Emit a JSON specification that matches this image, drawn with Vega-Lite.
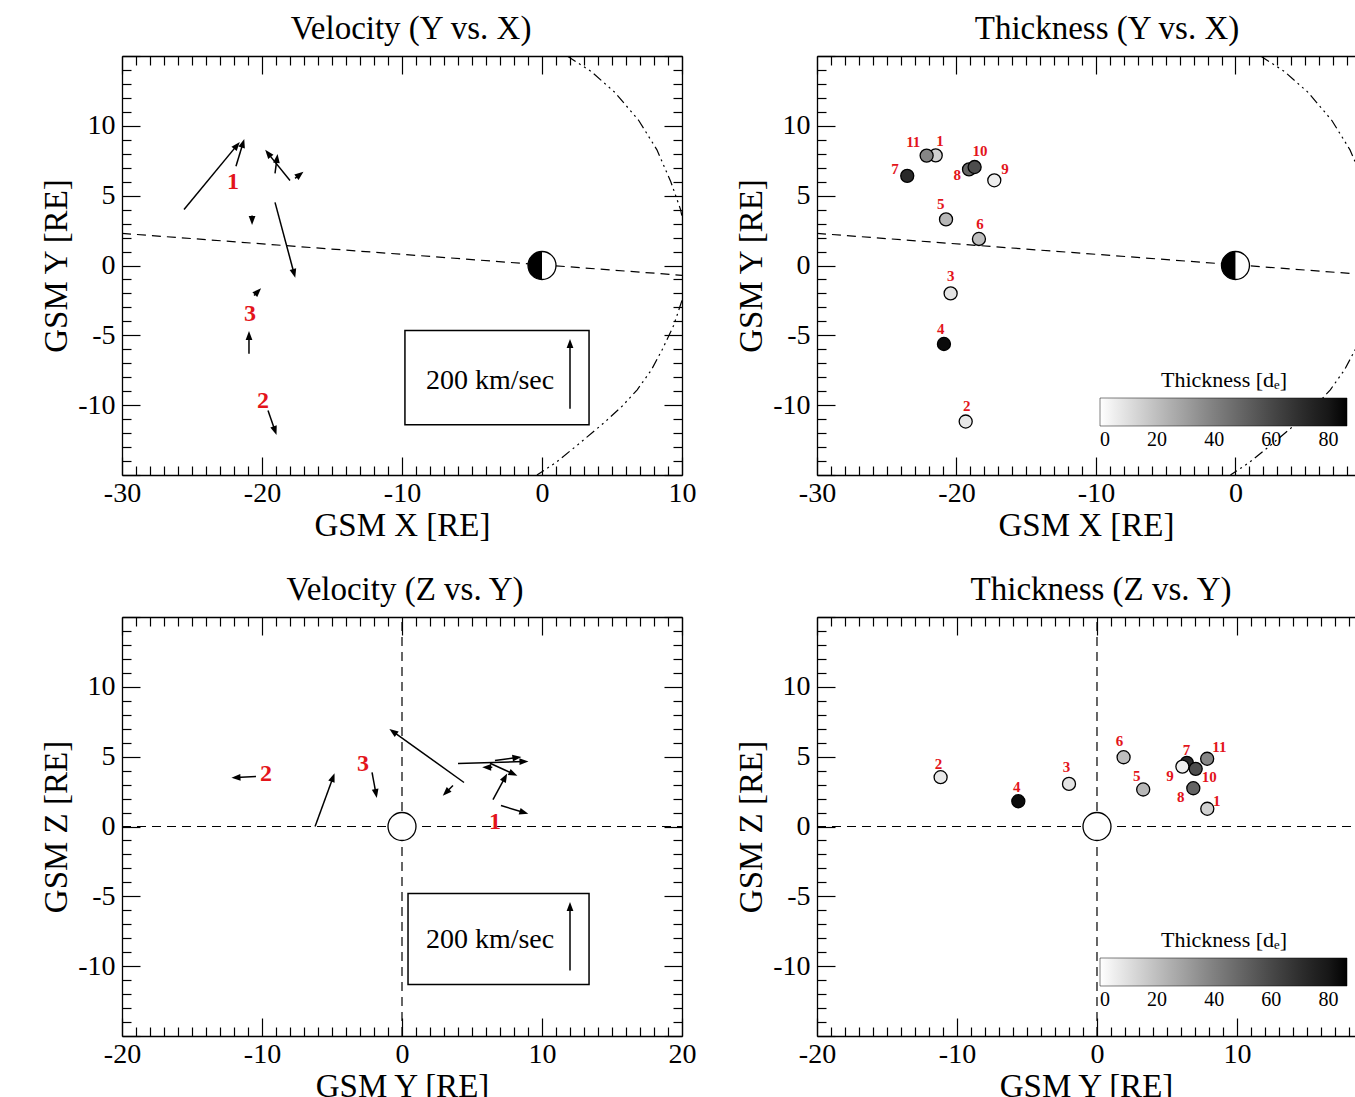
{
"$schema": "https://vega.github.io/schema/vega-lite/v6.json",
"background": "white",
"padding": {"left": 40, "top": 13, "right": 0, "bottom": 0},
"bounds": "flush",
"columns": 2,
"spacing": {"row": 142, "column": 135},
"datasets": {
 "curve": [
  {"x": 1.8, "y": 15}, {"x": 3.5, "y": 13.9}, {"x": 5.2, "y": 12.4}, {"x": 6.9, "y": 10.4}, {"x": 8.2, "y": 8.3}, {"x": 9.2, "y": 6.0}, {"x": 9.9, "y": 4.0}, {"x": 10.3, "y": 2.0}, {"x": 10.45, "y": 0.5}, {"x": 10.3, "y": -1.0}, {"x": 10.0, "y": -2.5}, {"x": 9.4, "y": -4.3}, {"x": 8.6, "y": -6.0}, {"x": 7.8, "y": -7.5}, {"x": 6.8, "y": -8.9}, {"x": 5.7, "y": -10.1}, {"x": 4.5, "y": -11.2}, {"x": 2.6, "y": -12.8}, {"x": 1.0, "y": -14.1}, {"x": -0.36, "y": -15}
 ],
 "velXY": [
  {"id": "7", "x": -25.57, "y": 4.01, "x2": -21.79, "y2": 8.6},
  {"id": "1", "x": -21.86, "y": 7.1, "x2": -21.36, "y2": 8.75},
  {"id": "10", "x": -18.0, "y": 6.09, "x2": -19.57, "y2": 8.03},
  {"id": "8", "x": -19.07, "y": 6.6, "x2": -18.93, "y2": 7.67},
  {"id": "9", "x": -17.64, "y": 6.24, "x2": -17.29, "y2": 6.52},
  {"id": "5", "x": -20.71, "y": 3.58, "x2": -20.71, "y2": 3.23},
  {"id": "6", "x": -19.07, "y": 4.52, "x2": -17.71, "y2": -0.57},
  {"id": "3", "x": -20.57, "y": -2.15, "x2": -20.29, "y2": -1.86},
  {"id": "4", "x": -20.93, "y": -6.31, "x2": -20.93, "y2": -5.02},
  {"id": "2", "x": -19.57, "y": -10.39, "x2": -19.07, "y2": -11.83}
 ],
 "velZY": [
  {"id": "2", "y": -10.43, "z": 3.58, "y2": -11.86, "z2": 3.51},
  {"id": "4", "y": -6.21, "z": 0.0, "y2": -4.93, "z2": 3.51},
  {"id": "3", "y": -2.14, "z": 3.87, "y2": -1.86, "z2": 2.36},
  {"id": "6", "y": 4.43, "z": 3.15, "y2": -0.64, "z2": 6.8},
  {"id": "5", "y": 3.64, "z": 2.93, "y2": 3.14, "z2": 2.43},
  {"id": "7", "y": 4.0, "z": 4.51, "y2": 8.71, "z2": 4.65},
  {"id": "10", "y": 6.29, "z": 4.53, "y2": 7.95, "z2": 3.77},
  {"id": "9", "y": 6.45, "z": 4.24, "y2": 6.05, "z2": 4.24},
  {"id": "11", "y": 6.64, "z": 4.72, "y2": 8.21, "z2": 4.94},
  {"id": "8", "y": 6.5, "z": 1.93, "y2": 7.36, "z2": 3.51},
  {"id": "1", "y": 7.07, "z": 1.5, "y2": 8.71, "z2": 1.0}
 ],
 "events": [
  {"id": "1", "thick": 14, "X": -21.49, "Y": 7.88, "Z": 1.27, "labX": -21.18, "labY": 8.91, "labYz": 8.55, "labZ": 1.79},
  {"id": "2", "thick": 7, "X": -19.34, "Y": -11.17, "Z": 3.53, "labX": -19.27, "labY": -10.09, "labYz": -11.33, "labZ": 4.49},
  {"id": "3", "thick": 8, "X": -20.42, "Y": -2.0, "Z": 3.05, "labX": -20.42, "labY": -0.77, "labYz": -2.17, "labZ": 4.24},
  {"id": "4", "thick": 84, "X": -20.9, "Y": -5.62, "Z": 1.81, "labX": -21.13, "labY": -4.54, "labYz": -5.74, "labZ": 2.81},
  {"id": "5", "thick": 22, "X": -20.75, "Y": 3.3, "Z": 2.65, "labX": -21.13, "labY": 4.42, "labYz": 2.84, "labZ": 3.6},
  {"id": "6", "thick": 20, "X": -18.39, "Y": 1.9, "Z": 4.96, "labX": -18.32, "labY": 2.94, "labYz": 1.6, "labZ": 6.11},
  {"id": "7", "thick": 72, "X": -23.53, "Y": 6.42, "Z": 4.56, "labX": -24.41, "labY": 6.93, "labYz": 6.4, "labZ": 5.51},
  {"id": "8", "thick": 50, "X": -19.1, "Y": 6.88, "Z": 2.74, "labX": -19.94, "labY": 6.45, "labYz": 5.98, "labZ": 2.1},
  {"id": "9", "thick": 5, "X": -17.29, "Y": 6.1, "Z": 4.29, "labX": -16.52, "labY": 6.93, "labYz": 5.21, "labZ": 3.65},
  {"id": "10", "thick": 58, "X": -18.7, "Y": 7.05, "Z": 4.13, "labX": -18.32, "labY": 8.19, "labYz": 8.02, "labZ": 3.53},
  {"id": "11", "thick": 38, "X": -22.14, "Y": 7.87, "Z": 4.85, "labX": -23.1, "labY": 8.84, "labYz": 8.74, "labZ": 5.68}
 ]
},
"concat": [
 {
  "width": 560, "height": 419,
  "title": {"text": "Velocity (Y vs. X)", "dx": 9},
  "layer": [
   {"data": {"values": [{"x": -30, "y": 2.3}, {"x": 10, "y": -0.7}]},
    "mark": {"type": "line", "color": "black", "strokeWidth": 1.2, "strokeDash": [9, 6], "clip": true},
    "encoding": {
     "x": {"field": "x", "type": "quantitative", "scale": {"domain": [-30, 10], "nice": false, "zero": false},
       "axis": {"orient": "bottom", "values": [-30,-29,-28,-27,-26,-25,-24,-23,-22,-21,-20,-19,-18,-17,-16,-15,-14,-13,-12,-11,-10,-9,-8,-7,-6,-5,-4,-3,-2,-1,0,1,2,3,4,5,6,7,8,9,10], "labelExpr": "datum.value % 10 === 0 ? '' + datum.value : ''", "tickSize": {"condition": {"test": "datum.value % 10 === 0", "value": -18}, "value": -9}, "labelPadding": 22, "title": "GSM X [RE]", "titlePadding": -7}},
     "y": {"field": "y", "type": "quantitative", "scale": {"domain": [-15, 15], "nice": false, "zero": false},
       "axis": {"orient": "left", "values": [-15,-14,-13,-12,-11,-10,-9,-8,-7,-6,-5,-4,-3,-2,-1,0,1,2,3,4,5,6,7,8,9,10,11,12,13,14,15], "labelExpr": "abs(datum.value) <= 10 && datum.value % 5 === 0 ? '' + datum.value : ''", "tickSize": {"condition": {"test": "datum.value % 5 === 0", "value": -18}, "value": -9}, "labelPadding": 25, "title": "GSM Y [RE]", "titlePadding": 4}}
    }},
   {"data": {"name": "curve"},
    "mark": {"type": "line", "color": "black", "strokeWidth": 1.2, "strokeDash": [10, 4, 2, 4, 2, 4, 2, 4], "clip": true},
    "encoding": {
     "x": {"field": "x", "type": "quantitative", "scale": {"domain": [-30, 10], "nice": false, "zero": false},
       "axis": {"orient": "top", "values": [-30,-29,-28,-27,-26,-25,-24,-23,-22,-21,-20,-19,-18,-17,-16,-15,-14,-13,-12,-11,-10,-9,-8,-7,-6,-5,-4,-3,-2,-1,0,1,2,3,4,5,6,7,8,9,10], "labels": false, "title": null, "tickSize": {"condition": {"test": "datum.value % 10 === 0", "value": -18}, "value": -9}}},
     "y": {"field": "y", "type": "quantitative", "scale": {"domain": [-15, 15], "nice": false, "zero": false},
       "axis": {"orient": "right", "values": [-15,-14,-13,-12,-11,-10,-9,-8,-7,-6,-5,-4,-3,-2,-1,0,1,2,3,4,5,6,7,8,9,10,11,12,13,14,15], "labels": false, "title": null, "tickSize": {"condition": {"test": "datum.value % 5 === 0", "value": -18}, "value": -9}}},
     "order": {"value": null}
    }},
   {"data": {"name": "velXY"},
    "mark": {"type": "rule", "color": "black", "strokeWidth": 1.5},
    "encoding": {
     "x": {"field": "x", "type": "quantitative", "axis": null}, "y": {"field": "y", "type": "quantitative", "axis": null},
     "x2": {"field": "x2"}, "y2": {"field": "y2"}
    }},
   {"data": {"name": "velXY"},
    "transform": [{"calculate": "atan2(datum.x2 - datum.x, datum.y2 - datum.y) * 180 / PI", "as": "ang"}],
    "mark": {"type": "point", "shape": "M0,-1L0.75,1L-0.75,1Z", "filled": true, "color": "black", "opacity": 1, "size": 81},
    "encoding": {
     "x": {"field": "x2", "type": "quantitative", "axis": null}, "y": {"field": "y2", "type": "quantitative", "axis": null},
     "angle": {"field": "ang", "type": "quantitative", "scale": null}
    }},
   {"data": {"values": [{"x": -22.07, "y": 5.95, "n": "1"}, {"x": -20.86, "y": -3.44, "n": "3"}, {"x": -19.93, "y": -9.68, "n": "2"}]},
    "mark": {"type": "text", "color": "#e3141b", "font": "Liberation Serif", "fontWeight": "bold", "fontSize": 24},
    "encoding": {"x": {"field": "x", "type": "quantitative", "axis": null}, "y": {"field": "y", "type": "quantitative", "axis": null}, "text": {"field": "n"}}},
   {"data": {"values": [{"x": 0, "y": 0}]},
    "mark": {"type": "point", "shape": "circle", "filled": true, "fill": "white", "stroke": "black", "strokeWidth": 1.3, "opacity": 1, "size": 784},
    "encoding": {"x": {"field": "x", "type": "quantitative", "axis": null}, "y": {"field": "y", "type": "quantitative", "axis": null}}},
   {"data": {"values": [{"x": 0, "y": 0}]},
    "mark": {"type": "point", "shape": "M0,-1A1,1,0,0,0,0,1Z", "filled": true, "color": "black", "opacity": 1, "size": 784},
    "encoding": {"x": {"field": "x", "type": "quantitative", "axis": null}, "y": {"field": "y", "type": "quantitative", "axis": null}}},
   {"data": {"values": [{"x": -9.79, "x2": 3.36, "y": -4.66, "y2": -11.4}]},
    "mark": {"type": "rect", "fill": "white", "stroke": "black", "strokeWidth": 1.5},
    "encoding": {"x": {"field": "x", "type": "quantitative", "axis": null}, "x2": {"field": "x2"}, "y": {"field": "y", "type": "quantitative", "axis": null}, "y2": {"field": "y2"}}},
   {"data": {"values": [{"x": -3.71, "y": -8.24, "s": "200 km/sec"}]},
    "mark": {"type": "text", "font": "Liberation Serif", "fontSize": 28, "color": "black"},
    "encoding": {"x": {"field": "x", "type": "quantitative", "axis": null}, "y": {"field": "y", "type": "quantitative", "axis": null}, "text": {"field": "s"}}},
   {"data": {"values": [{"x": 2.0, "y": -10.25, "x2": 2.0, "y2": -5.59}]},
    "mark": {"type": "rule", "color": "black", "strokeWidth": 1.5},
    "encoding": {"x": {"field": "x", "type": "quantitative", "axis": null}, "y": {"field": "y", "type": "quantitative", "axis": null}, "x2": {"field": "x2"}, "y2": {"field": "y2"}}},
   {"data": {"values": [{"x": 2.0, "y": -5.59}]},
    "mark": {"type": "point", "shape": "M0,-1L0.75,1L-0.75,1Z", "filled": true, "color": "black", "opacity": 1, "size": 81},
    "encoding": {"x": {"field": "x", "type": "quantitative", "axis": null}, "y": {"field": "y", "type": "quantitative", "axis": null}}}
  ],
  "resolve": {"axis": {"x": "independent", "y": "independent"}}
 },
 {
  "width": 538, "height": 419,
  "title": {"text": "Thickness (Y vs. X)", "dx": 21},
  "layer": [
   {"data": {"values": [{"x": -30, "y": 2.3}, {"x": 10, "y": -0.7}]},
    "mark": {"type": "line", "color": "black", "strokeWidth": 1.2, "strokeDash": [9, 6], "clip": true},
    "encoding": {
     "x": {"field": "x", "type": "quantitative", "scale": {"domain": [-30, 8.57], "nice": false, "zero": false},
       "axis": {"orient": "bottom", "values": [-30,-29,-28,-27,-26,-25,-24,-23,-22,-21,-20,-19,-18,-17,-16,-15,-14,-13,-12,-11,-10,-9,-8,-7,-6,-5,-4,-3,-2,-1,0,1,2,3,4,5,6,7,8], "labelExpr": "datum.value % 10 === 0 ? '' + datum.value : ''", "tickSize": {"condition": {"test": "datum.value % 10 === 0", "value": -18}, "value": -9}, "labelPadding": 22, "title": "GSM X [RE]", "titlePadding": -7}},
     "y": {"field": "y", "type": "quantitative", "scale": {"domain": [-15, 15], "nice": false, "zero": false},
       "axis": {"orient": "left", "values": [-15,-14,-13,-12,-11,-10,-9,-8,-7,-6,-5,-4,-3,-2,-1,0,1,2,3,4,5,6,7,8,9,10,11,12,13,14,15], "labelExpr": "abs(datum.value) <= 10 && datum.value % 5 === 0 ? '' + datum.value : ''", "tickSize": {"condition": {"test": "datum.value % 5 === 0", "value": -18}, "value": -9}, "labelPadding": 25, "title": "GSM Y [RE]", "titlePadding": 4}}
    }},
   {"data": {"name": "curve"},
    "mark": {"type": "line", "color": "black", "strokeWidth": 1.2, "strokeDash": [10, 4, 2, 4, 2, 4, 2, 4], "clip": true},
    "encoding": {
     "x": {"field": "x", "type": "quantitative", "scale": {"domain": [-30, 8.57], "nice": false, "zero": false},
       "axis": {"orient": "top", "values": [-30,-29,-28,-27,-26,-25,-24,-23,-22,-21,-20,-19,-18,-17,-16,-15,-14,-13,-12,-11,-10,-9,-8,-7,-6,-5,-4,-3,-2,-1,0,1,2,3,4,5,6,7,8], "labels": false, "title": null, "tickSize": {"condition": {"test": "datum.value % 10 === 0", "value": -18}, "value": -9}}},
     "y": {"field": "y", "type": "quantitative", "scale": {"domain": [-15, 15], "nice": false, "zero": false}, "axis": null},
     "order": {"value": null}
    }},
   {"data": {"name": "events"},
    "mark": {"type": "point", "shape": "circle", "filled": true, "stroke": "black", "strokeWidth": 1.3, "opacity": 1, "size": 170},
    "encoding": {
     "x": {"field": "X", "type": "quantitative", "axis": null}, "y": {"field": "Y", "type": "quantitative", "axis": null},
     "fill": {"field": "thick", "type": "quantitative", "scale": {"domain": [0, 86.5], "range": ["#ffffff", "#000000"]},
       "legend": {"orient": "none", "legendX": 283, "legendY": 314, "direction": "horizontal", "gradientLength": 247, "gradientThickness": 28, "title": "Thickness [dₑ]", "titleFont": "Liberation Serif", "titleFontSize": 22, "titleFontWeight": "normal", "titleColor": "black", "titleAnchor": "middle", "titlePadding": 6, "labelFont": "Liberation Serif", "labelFontSize": 20, "labelColor": "black", "values": [0, 20, 40, 60, 80], "gradientStrokeColor": "black", "gradientStrokeWidth": 0.5, "labelOffset": 4}}
    }},
   {"data": {"name": "events"},
    "mark": {"type": "text", "color": "#e3141b", "font": "Liberation Serif", "fontWeight": "bold", "fontSize": 15},
    "encoding": {"x": {"field": "labX", "type": "quantitative", "axis": null}, "y": {"field": "labY", "type": "quantitative", "axis": null}, "text": {"field": "id"}}},
   {"data": {"values": [{"x": 0, "y": 0}]},
    "mark": {"type": "point", "shape": "circle", "filled": true, "fill": "white", "stroke": "black", "strokeWidth": 1.3, "opacity": 1, "size": 784},
    "encoding": {"x": {"field": "x", "type": "quantitative", "axis": null}, "y": {"field": "y", "type": "quantitative", "axis": null}}},
   {"data": {"values": [{"x": 0, "y": 0}]},
    "mark": {"type": "point", "shape": "M0,-1A1,1,0,0,0,0,1Z", "filled": true, "color": "black", "opacity": 1, "size": 784},
    "encoding": {"x": {"field": "x", "type": "quantitative", "axis": null}, "y": {"field": "y", "type": "quantitative", "axis": null}}}
  ],
  "resolve": {"axis": {"x": "independent", "y": "independent"}}
 },
 {
  "width": 560, "height": 419,
  "title": {"text": "Velocity (Z vs. Y)", "dx": 3},
  "layer": [
   {"data": {"values": [{"y": -20, "z": 0}, {"y": 20, "z": 0}]},
    "mark": {"type": "line", "color": "black", "strokeWidth": 1.2, "strokeDash": [9, 6], "clip": true},
    "encoding": {
     "x": {"field": "y", "type": "quantitative", "scale": {"domain": [-20, 20], "nice": false, "zero": false},
       "axis": {"orient": "bottom", "values": [-20,-19,-18,-17,-16,-15,-14,-13,-12,-11,-10,-9,-8,-7,-6,-5,-4,-3,-2,-1,0,1,2,3,4,5,6,7,8,9,10,11,12,13,14,15,16,17,18,19,20], "labelExpr": "datum.value % 10 === 0 ? '' + datum.value : ''", "tickSize": {"condition": {"test": "datum.value % 10 === 0", "value": -18}, "value": -9}, "labelPadding": 22, "title": "GSM Y [RE]", "titlePadding": -7}},
     "y": {"field": "z", "type": "quantitative", "scale": {"domain": [-15, 15], "nice": false, "zero": false},
       "axis": {"orient": "left", "values": [-15,-14,-13,-12,-11,-10,-9,-8,-7,-6,-5,-4,-3,-2,-1,0,1,2,3,4,5,6,7,8,9,10,11,12,13,14,15], "labelExpr": "abs(datum.value) <= 10 && datum.value % 5 === 0 ? '' + datum.value : ''", "tickSize": {"condition": {"test": "datum.value % 5 === 0", "value": -18}, "value": -9}, "labelPadding": 25, "title": "GSM Z [RE]", "titlePadding": 4}}
    }},
   {"data": {"values": [{"y": 0, "z": -15}, {"y": 0, "z": 15}]},
    "mark": {"type": "line", "color": "black", "strokeWidth": 1.2, "strokeDash": [9, 6], "clip": true},
    "encoding": {
     "x": {"field": "y", "type": "quantitative", "scale": {"domain": [-20, 20], "nice": false, "zero": false},
       "axis": {"orient": "top", "values": [-20,-19,-18,-17,-16,-15,-14,-13,-12,-11,-10,-9,-8,-7,-6,-5,-4,-3,-2,-1,0,1,2,3,4,5,6,7,8,9,10,11,12,13,14,15,16,17,18,19,20], "labels": false, "title": null, "tickSize": {"condition": {"test": "datum.value % 10 === 0", "value": -18}, "value": -9}}},
     "y": {"field": "z", "type": "quantitative", "scale": {"domain": [-15, 15], "nice": false, "zero": false},
       "axis": {"orient": "right", "values": [-15,-14,-13,-12,-11,-10,-9,-8,-7,-6,-5,-4,-3,-2,-1,0,1,2,3,4,5,6,7,8,9,10,11,12,13,14,15], "labels": false, "title": null, "tickSize": {"condition": {"test": "datum.value % 5 === 0", "value": -18}, "value": -9}}},
     "order": {"value": null}
    }},
   {"data": {"name": "velZY"},
    "mark": {"type": "rule", "color": "black", "strokeWidth": 1.5},
    "encoding": {
     "x": {"field": "y", "type": "quantitative", "axis": null}, "y": {"field": "z", "type": "quantitative", "axis": null},
     "x2": {"field": "y2"}, "y2": {"field": "z2"}
    }},
   {"data": {"name": "velZY"},
    "transform": [{"calculate": "atan2(datum.y2 - datum.y, datum.z2 - datum.z) * 180 / PI", "as": "ang"}],
    "mark": {"type": "point", "shape": "M0,-1L0.75,1L-0.75,1Z", "filled": true, "color": "black", "opacity": 1, "size": 81},
    "encoding": {
     "x": {"field": "y2", "type": "quantitative", "axis": null}, "y": {"field": "z2", "type": "quantitative", "axis": null},
     "angle": {"field": "ang", "type": "quantitative", "scale": null}
    }},
   {"data": {"values": [{"y": -9.71, "z": 3.79, "n": "2"}, {"y": -2.79, "z": 4.5, "n": "3"}, {"y": 6.64, "z": 0.29, "n": "1"}]},
    "mark": {"type": "text", "color": "#e3141b", "font": "Liberation Serif", "fontWeight": "bold", "fontSize": 24},
    "encoding": {"x": {"field": "y", "type": "quantitative", "axis": null}, "y": {"field": "z", "type": "quantitative", "axis": null}, "text": {"field": "n"}}},
   {"data": {"values": [{"y": 0, "z": 0}]},
    "mark": {"type": "point", "shape": "circle", "filled": true, "fill": "white", "stroke": "black", "strokeWidth": 1.3, "opacity": 1, "size": 784},
    "encoding": {"x": {"field": "y", "type": "quantitative", "axis": null}, "y": {"field": "z", "type": "quantitative", "axis": null}}},
   {"data": {"values": [{"y": 0.43, "y2": 13.36, "z": -4.8, "z2": -11.31}]},
    "mark": {"type": "rect", "fill": "white", "stroke": "black", "strokeWidth": 1.5},
    "encoding": {"x": {"field": "y", "type": "quantitative", "axis": null}, "x2": {"field": "y2"}, "y": {"field": "z", "type": "quantitative", "axis": null}, "y2": {"field": "z2"}}},
   {"data": {"values": [{"y": 6.29, "z": -8.16, "s": "200 km/sec"}]},
    "mark": {"type": "text", "font": "Liberation Serif", "fontSize": 28, "color": "black"},
    "encoding": {"x": {"field": "y", "type": "quantitative", "axis": null}, "y": {"field": "z", "type": "quantitative", "axis": null}, "text": {"field": "s"}}},
   {"data": {"values": [{"y": 12.0, "z": -10.31, "y2": 12.0, "z2": -5.73}]},
    "mark": {"type": "rule", "color": "black", "strokeWidth": 1.5},
    "encoding": {"x": {"field": "y", "type": "quantitative", "axis": null}, "y": {"field": "z", "type": "quantitative", "axis": null}, "x2": {"field": "y2"}, "y2": {"field": "z2"}}},
   {"data": {"values": [{"y": 12.0, "z": -5.73}]},
    "mark": {"type": "point", "shape": "M0,-1L0.75,1L-0.75,1Z", "filled": true, "color": "black", "opacity": 1, "size": 81},
    "encoding": {"x": {"field": "y", "type": "quantitative", "axis": null}, "y": {"field": "z", "type": "quantitative", "axis": null}}}
  ],
  "resolve": {"axis": {"x": "independent", "y": "independent"}}
 },
 {
  "width": 538, "height": 419,
  "title": {"text": "Thickness (Z vs. Y)", "dx": 15},
  "layer": [
   {"data": {"values": [{"y": -20, "z": 0}, {"y": 20, "z": 0}]},
    "mark": {"type": "line", "color": "black", "strokeWidth": 1.2, "strokeDash": [9, 6], "clip": true},
    "encoding": {
     "x": {"field": "y", "type": "quantitative", "scale": {"domain": [-20, 18.43], "nice": false, "zero": false},
       "axis": {"orient": "bottom", "values": [-20,-19,-18,-17,-16,-15,-14,-13,-12,-11,-10,-9,-8,-7,-6,-5,-4,-3,-2,-1,0,1,2,3,4,5,6,7,8,9,10,11,12,13,14,15,16,17,18], "labelExpr": "datum.value % 10 === 0 ? '' + datum.value : ''", "tickSize": {"condition": {"test": "datum.value % 10 === 0", "value": -18}, "value": -9}, "labelPadding": 22, "title": "GSM Y [RE]", "titlePadding": -7}},
     "y": {"field": "z", "type": "quantitative", "scale": {"domain": [-15, 15], "nice": false, "zero": false},
       "axis": {"orient": "left", "values": [-15,-14,-13,-12,-11,-10,-9,-8,-7,-6,-5,-4,-3,-2,-1,0,1,2,3,4,5,6,7,8,9,10,11,12,13,14,15], "labelExpr": "abs(datum.value) <= 10 && datum.value % 5 === 0 ? '' + datum.value : ''", "tickSize": {"condition": {"test": "datum.value % 5 === 0", "value": -18}, "value": -9}, "labelPadding": 25, "title": "GSM Z [RE]", "titlePadding": 4}}
    }},
   {"data": {"values": [{"y": 0, "z": -15}, {"y": 0, "z": 15}]},
    "mark": {"type": "line", "color": "black", "strokeWidth": 1.2, "strokeDash": [9, 6], "clip": true},
    "encoding": {
     "x": {"field": "y", "type": "quantitative", "scale": {"domain": [-20, 18.43], "nice": false, "zero": false},
       "axis": {"orient": "top", "values": [-20,-19,-18,-17,-16,-15,-14,-13,-12,-11,-10,-9,-8,-7,-6,-5,-4,-3,-2,-1,0,1,2,3,4,5,6,7,8,9,10,11,12,13,14,15,16,17,18], "labels": false, "title": null, "tickSize": {"condition": {"test": "datum.value % 10 === 0", "value": -18}, "value": -9}}},
     "y": {"field": "z", "type": "quantitative", "scale": {"domain": [-15, 15], "nice": false, "zero": false}, "axis": null},
     "order": {"value": null}
    }},
   {"data": {"name": "events"},
    "mark": {"type": "point", "shape": "circle", "filled": true, "stroke": "black", "strokeWidth": 1.3, "opacity": 1, "size": 170},
    "encoding": {
     "x": {"field": "Y", "type": "quantitative", "axis": null}, "y": {"field": "Z", "type": "quantitative", "axis": null},
     "fill": {"field": "thick", "type": "quantitative", "scale": {"domain": [0, 86.5], "range": ["#ffffff", "#000000"]},
       "legend": {"orient": "none", "legendX": 283, "legendY": 313, "direction": "horizontal", "gradientLength": 247, "gradientThickness": 28, "title": "Thickness [dₑ]", "titleFont": "Liberation Serif", "titleFontSize": 22, "titleFontWeight": "normal", "titleColor": "black", "titleAnchor": "middle", "titlePadding": 6, "labelFont": "Liberation Serif", "labelFontSize": 20, "labelColor": "black", "values": [0, 20, 40, 60, 80], "gradientStrokeColor": "black", "gradientStrokeWidth": 0.5, "labelOffset": 4}}
    }},
   {"data": {"name": "events"},
    "mark": {"type": "text", "color": "#e3141b", "font": "Liberation Serif", "fontWeight": "bold", "fontSize": 15},
    "encoding": {"x": {"field": "labYz", "type": "quantitative", "axis": null}, "y": {"field": "labZ", "type": "quantitative", "axis": null}, "text": {"field": "id"}}},
   {"data": {"values": [{"y": 0, "z": 0}]},
    "mark": {"type": "point", "shape": "circle", "filled": true, "fill": "white", "stroke": "black", "strokeWidth": 1.3, "opacity": 1, "size": 784},
    "encoding": {"x": {"field": "y", "type": "quantitative", "axis": null}, "y": {"field": "z", "type": "quantitative", "axis": null}}}
  ],
  "resolve": {"axis": {"x": "independent", "y": "independent"}}
 }
],
"resolve": {"scale": {"fill": "independent"}, "legend": {"fill": "independent"}},
"config": {
 "view": {"stroke": null},
 "font": "Liberation Serif",
 "axis": {"domainColor": "black", "domainWidth": 1.3, "tickColor": "black", "tickWidth": 1.2, "labelColor": "black", "titleColor": "black", "labelFont": "Liberation Serif", "titleFont": "Liberation Serif", "labelFontSize": 28, "titleFontSize": 33, "titleFontWeight": "normal", "grid": false, "labelFlush": false, "labelOverlap": false, "labelBound": false},
 "title": {"font": "Liberation Serif", "fontSize": 33, "fontWeight": "normal", "color": "black", "anchor": "middle", "frame": "group", "offset": -4}
}
}
